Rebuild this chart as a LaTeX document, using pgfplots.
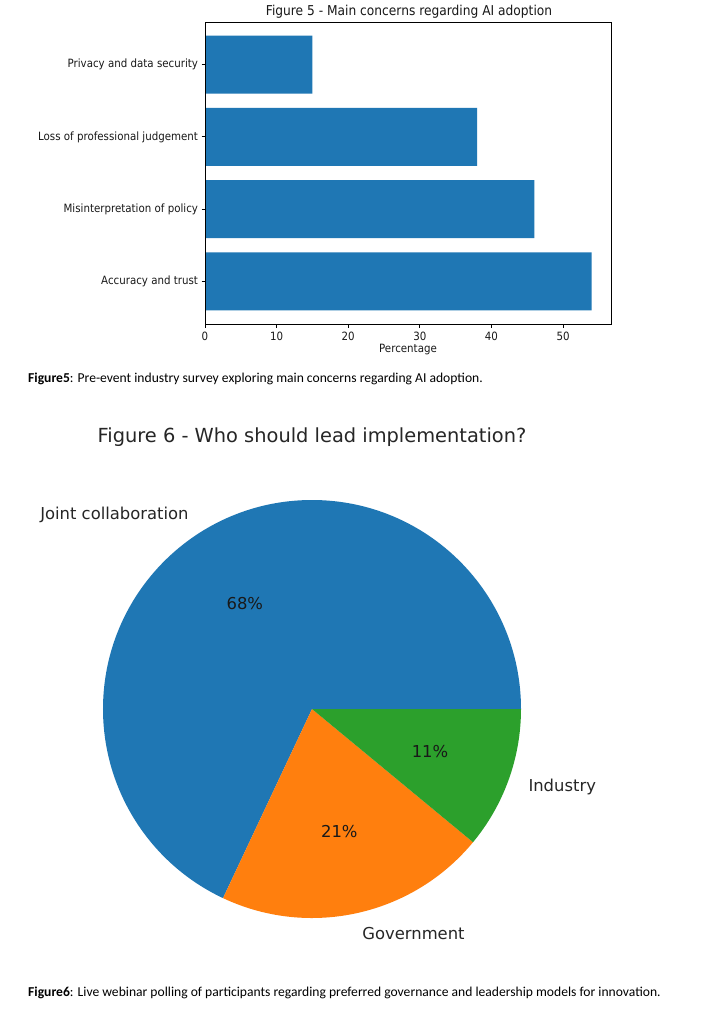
\documentclass[border=0pt]{standalone}
\usepackage{pgfplots}
\pgfplotsset{compat=1.18}
\usepackage{pgfplotstable}
\usepackage{fontspec}
\setmainfont{Carlito}
\newfontfamily\dejavu{DejaVu Sans}
\newfontfamily\dejavucond[FakeStretch=0.9]{DejaVu Sans}
\definecolor{mplblue}{HTML}{1F77B4}
\definecolor{mplorange}{HTML}{FF7F0E}
\definecolor{mplgreen}{HTML}{2CA02C}

\pgfplotstableread{
value pos
54 0
46 1
38 2
15 3
}\bardata

\pgfplotstableread[col sep=comma]{
label,value
Joint collaboration,68
Government,21
Industry,11
}\piedata

\pgfplotstablegetelem{0}{value}\of\piedata \let\va\pgfplotsretval
\pgfplotstablegetelem{1}{value}\of\piedata \let\vb\pgfplotsretval
\pgfplotstablegetelem{2}{value}\of\piedata \let\vc\pgfplotsretval
\pgfmathsetmacro\aB{\va*3.6}
\pgfmathsetmacro\aC{(\va+\vb)*3.6}
\pgfmathsetmacro\mA{\aB/2}
\pgfmathsetmacro\mB{(\aB+\aC)/2}
\pgfmathsetmacro\mC{(\aC+360)/2}

\begin{document}
\begin{tikzpicture}
\useasboundingbox (0pt,0pt) rectangle (710pt,-1024pt);
\fill[white] (0pt,0pt) rectangle (710pt,-1024pt);

% ---------- Figure 5 ----------
\begin{axis}[
  at={(205pt,-22pt)}, anchor=north west,
  scale only axis, width=406pt, height=302pt,
  xbar, bar width=0.8,
  xmin=0, xmax=56.7, ymin=-0.59, ymax=3.59,
  xtick={0,10,20,30,40,50},
  ytick={0,1,2,3},
  yticklabels={Accuracy and trust,Misinterpretation of policy,Loss of professional judgement,Privacy and data security},
  tick align=outside, tick pos=left,
  major tick length=3.5pt,
  axis line style={line width=0.8pt, black},
  every tick/.style={black, line width=0.8pt},
  /pgf/number format/assume math mode=true,
  ticklabel style={font=\dejavucond\fontsize{11.4}{13}\selectfont, text=black!90},
  xticklabel style={yshift=-1pt},
  axis on top,
]
\addplot[fill=mplblue, draw=none] table[x=value, y=pos] {\bardata};
\end{axis}
\node[font=\dejavucond\fontsize{13.6}{16}\selectfont, text=black!90] at (409pt,-12pt) {Figure 5 - Main concerns regarding AI adoption};
\node[font=\dejavucond\fontsize{11.4}{13}\selectfont, text=black!90] at (408pt,-350pt) {Percentage};
\node[font=\fontsize{13.6}{16}\selectfont, anchor=base west, inner sep=0pt] at (28pt,-382pt) {\textbf{Figure5}: Pre-event industry survey exploring main concerns regarding AI adoption.};

% ---------- Figure 6 ----------
\node[font=\dejavu\fontsize{19.4}{23}\selectfont, text=black!85] at (312pt,-437pt) {Figure 6 - Who should lead implementation?};
\begin{axis}[
  at={(103pt,-918pt)}, anchor=south west,
  scale only axis, width=418pt, height=418pt,
  hide axis, clip=false,
  xmin=-1, xmax=1, ymin=-1, ymax=1,
]
\fill[mplblue] (axis cs:0,0) -- (axis cs:1,0) arc[start angle=0, end angle=\aB, radius=209pt] -- cycle;
\fill[mplorange] (axis cs:0,0) -- (axis cs:{cos(\aB)},{sin(\aB)}) arc[start angle=\aB, end angle=\aC, radius=209pt] -- cycle;
\fill[mplgreen] (axis cs:0,0) -- (axis cs:{cos(\aC)},{sin(\aC)}) arc[start angle=\aC, end angle=360, radius=209pt] -- cycle;
\node[font=\dejavu\fontsize{16.4}{19}\selectfont, text=black!85, anchor=east, inner sep=0pt] at (axis cs:{1.1*cos(\mA)},{1.1*sin(\mA)}) {Joint collaboration};
\node[font=\dejavu\fontsize{16.4}{19}\selectfont, text=black!85, anchor=west, inner sep=0pt] at (axis cs:{1.1*cos(\mB)},{1.1*sin(\mB)}) {Government};
\node[font=\dejavu\fontsize{16.4}{19}\selectfont, text=black!85, anchor=west, inner sep=0pt] at (axis cs:{1.1*cos(\mC)},{1.1*sin(\mC)}) {Industry};
\node[font=\dejavu\fontsize{16.4}{19}\selectfont, text=black!90] at (axis cs:{0.6*cos(\mA)},{0.6*sin(\mA)}) {68\%};
\node[font=\dejavu\fontsize{16.4}{19}\selectfont, text=black!90] at (axis cs:{0.6*cos(\mB)},{0.6*sin(\mB)}) {21\%};
\node[font=\dejavu\fontsize{16.4}{19}\selectfont, text=black!90] at (axis cs:{0.6*cos(\mC)},{0.6*sin(\mC)}) {11\%};
\end{axis}
\node[font=\fontsize{13.6}{16}\selectfont, anchor=base west, inner sep=0pt] at (28pt,-996pt) {\textbf{Figure6}: Live webinar polling of participants regarding preferred governance and leadership models for innovation.};
\end{tikzpicture}
\end{document}
